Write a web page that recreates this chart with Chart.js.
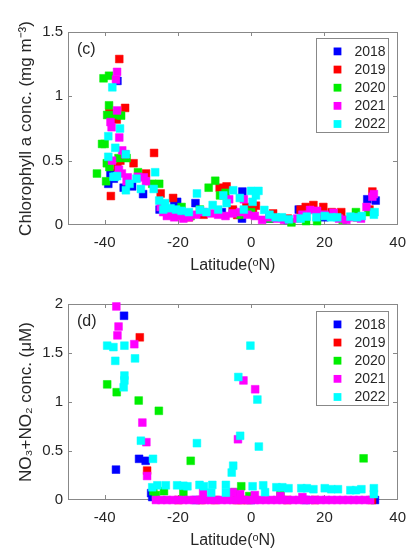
<!DOCTYPE html>
<html>
<head>
<meta charset="utf-8">
<script src="https://cdn.jsdelivr.net/npm/chart.js@4"></script>
<style>
  body { margin: 0; background: #fff; }
  .panel { position: relative; width: 415px; height: 275px; }
</style>
</head>
<body>
<div class="panel"><canvas id="chlChart"></canvas></div>
<div class="panel"><canvas id="no3Chart"></canvas></div>
<script>
// years and marker colours
const years = ['2018', '2019', '2020', '2021', '2022'];
const yearColors = ['#0000ff', '#ff0000', '#00ee00', '#ff00ff', '#00ffff'];

// tick labels
const latTicks = [-40, -20, 0, 20, 40];
const chlTicks = [0, 0.5, 1, 1.5];
const no3Ticks = [0, 0.5, 1, 1.5, 2];

// (c) chlorophyll a, [latitude, mg m-3]
const chl2018 = [[-36.5, 1.12], [-38.4, 0.40], [-39, 0.32], [-34.8, 0.29], [-37.5, 0.36], [-29.5, 0.24], [-32.5, 0.30],
  [-25, 0.12], [-21, 0.17], [-20.2, 0.18], [-18, 0.08], [-15.2, 0.17], [-8, 0.10], [-5, 0.11], [-2.4, 0.26], [-2.5, 0.05],
  [5, 0.05], [10, 0.04], [13, 0.12], [20, 0.06], [31.7, 0.20], [34, 0.19]];
const chl2019 = [[-36, 1.29], [-34.4, 0.91], [-38.7, 0.87], [-36.7, 0.82], [-36.5, 0.45], [-35.7, 0.50], [-38.3, 0.225],
  [-32.1, 0.48], [-26.5, 0.56], [-28.7, 0.40], [-24.7, 0.245], [-21.3, 0.21], [-17, 0.06], [-13, 0.08], [-8.6, 0.29],
  [-6.7, 0.30], [-5, 0.12], [-3.8, 0.078], [-1.3, 0.14], [0.5, 0.13], [1.3, 0.15], [6, 0.09], [10, 0.05], [13.5, 0.12],
  [14.9, 0.14], [17, 0.155], [19.7, 0.14], [22, 0.10], [24.6, 0.10], [29, 0.06], [32.3, 0.12], [33.1, 0.26]];
const chl2020 = [[-40.3, 1.14], [-38.8, 1.16], [-38.8, 0.93], [-39.3, 0.855], [-37.2, 0.855], [-35.5, 0.85], [-40.7, 0.63],
  [-40, 0.63], [-36.2, 0.52], [-34, 0.52], [-42.1, 0.40], [-39.4, 0.48], [-39.6, 0.34], [-38.7, 0.45], [-30.9, 0.41],
  [-27, 0.32], [-25.1, 0.32], [-23.8, 0.16], [-22, 0.11], [-19, 0.14], [-16.5, 0.07], [-14, 0.12], [-11.6, 0.29],
  [-9.8, 0.344], [-8.5, 0.23], [-7, 0.25], [-3, 0.08], [0, 0.10], [5, 0.05], [11, 0.02], [15, 0.03], [18, 0.03],
  [25, 0.04], [28.6, 0.10], [32, 0.10]];
const chl2021 = [[-36.6, 1.19], [-36.9, 1.13], [-36.6, 0.89], [-38.4, 0.80], [-38.1, 0.76], [-36.0, 0.68], [-35.2, 0.58],
  [-34.4, 0.55], [-38, 0.50], [-36.1, 0.43], [-35.3, 0.40], [-33.7, 0.37], [-34, 0.34], [-30.9, 0.375], [-29.3, 0.37],
  [-28.7, 0.34], [-24.7, 0.14], [-24, 0.10], [-23, 0.07], [-22, 0.08], [-21, 0.06], [-20, 0.07], [-18.5, 0.05], [-17, 0.06],
  [-15, 0.08], [-13, 0.10], [-11, 0.09], [-9, 0.08], [-7, 0.07], [-6, 0.20], [-5, 0.09], [-3, 0.10], [-2, 0.20],
  [-1, 0.08], [1, 0.07], [3, 0.04], [5, 0.06], [7, 0.05], [9, 0.04], [12.6, 0.05], [14, 0.08], [16.1, 0.117], [18, 0.11],
  [20, 0.08], [22.5, 0.095], [24, 0.05], [26, 0.04], [28, 0.06], [30, 0.05], [31.5, 0.14], [33.1, 0.22], [33.5, 0.24]];
const chl2022 = [[-37.9, 1.07], [-35.8, 0.75], [-39, 0.69], [-37.1, 0.60], [-39, 0.53], [-34.2, 0.55], [-37.6, 0.375],
  [-37.2, 0.375], [-36.6, 0.38], [-33.2, 0.32], [-34.2, 0.27], [-31.3, 0.36], [-30.1, 0.28], [-26.2, 0.41], [-26.6, 0.28],
  [-25.1, 0.19], [-24, 0.12], [-23.5, 0.17], [-22, 0.13], [-20.5, 0.12], [-19, 0.11], [-17, 0.10], [-14.8, 0.245],
  [-14, 0.117], [-12.2, 0.10], [-10.5, 0.155], [-9, 0.12], [-7.6, 0.23], [-6.7, 0.17], [-4.9, 0.27], [-3.1, 0.21],
  [-2, 0.12], [0, 0.265], [0.4, 0.18], [1.3, 0.23], [2, 0.265], [3.6, 0.117], [5, 0.08], [6.7, 0.06], [8.4, 0.06],
  [10.3, 0.044], [13.5, 0.05], [15.2, 0.065], [17.8, 0.06], [20.1, 0.07], [21.8, 0.06], [23.5, 0.06], [27.1, 0.065],
  [28.9, 0.06], [30.2, 0.07], [33.5, 0.08], [33.7, 0.10]];

// (d) NO3+NO2, [latitude, uM]
const no3_2018 = [[-34.7, 1.88], [-36.9, 0.31], [-30.6, 0.42], [-28.8, 0.40], [-27.3, 0.07], [-27, 0.03], [-15, 0], [0, 0],
  [15, 0], [33.8, 0]];
const no3_2019 = [[-30.4, 1.66], [-28.4, 0.30], [-19.8, 0], [-13.5, 0], [-10, 0], [-4, 0], [-2.7, 0], [-1, 0], [9.8, 0],
  [17.4, 0], [33, 0]];
const no3_2020 = [[-39.3, 1.18], [-36.7, 1.10], [-30.7, 1.015], [-25.2, 0.91], [-16.5, 0.40], [30.7, 0.425], [-26.7, 0.09],
  [-26, 0.05], [-23.8, 0.09], [-18.5, 0.075], [-4.5, 0.08], [-2.7, 0.14], [-0.5, 0.04], [8, 0.05]];
const no3_2021 = [[-36.8, 1.975], [-36.2, 1.77], [-36.5, 1.68], [-31.9, 1.59], [-29.7, 0.79], [-28.6, 0.59], [-28.4, 0.245],
  [-2.1, 1.22], [1.1, 1.13], [-3.6, 0.62], [-13.1, 0.075], [-5, 0.08], [-3, 0.06], [1, 0.05], [8, 0.04], [14, 0.03],
  [-26, 0], [-24.5, 0], [-23, 0], [-21.5, 0], [-20, 0], [-18.5, 0], [-17, 0], [-15.5, 0], [-14, 0], [-12.5, 0], [-11, 0],
  [-9.5, 0], [-8, 0], [-6.5, 0], [-5, 0], [-3.5, 0], [-2, 0], [-0.5, 0], [1, 0], [2.5, 0], [4, 0], [5.5, 0], [7, 0],
  [8.5, 0], [10, 0], [11.5, 0], [13, 0], [14.5, 0], [16, 0], [17.5, 0], [19, 0], [20.5, 0], [22, 0], [23.5, 0], [25, 0],
  [26.5, 0], [28, 0], [29.5, 0], [31, 0], [32.5, 0]];
const no3_2022 = [[-39.3, 1.575], [-37.6, 1.56], [-34.6, 1.575], [-37.1, 1.42], [-31.7, 1.445], [-34.6, 1.27], [-34.6, 1.22],
  [-34.8, 1.15], [-30.1, 0.605], [-26.8, 0.42], [-14.8, 0.58], [-0.2, 1.575], [-3.5, 1.255], [1.7, 1.025], [-3.0, 0.655],
  [2.1, 0.545], [-4.9, 0.35], [-5.3, 0.28], [-27, 0.13], [-25.6, 0.15], [-23.3, 0.15], [-20.2, 0.15], [-18.5, 0.145],
  [-17.4, 0.14], [-14.1, 0.154], [-12.9, 0.14], [-10.6, 0.154], [-10.9, 0.075], [-6.9, 0.154], [-6.9, 0.075], [0.4, 0.14],
  [3.3, 0.15], [3.8, 0.08], [6.9, 0.13], [8.5, 0.13], [10.2, 0.12], [13.7, 0.12], [15.2, 0.12], [17, 0.11], [20.1, 0.12],
  [21.9, 0.11], [23.7, 0.11], [27.1, 0.10], [28.6, 0.10], [30.1, 0.11], [33.5, 0.12], [33.5, 0.06]];

const chlSeries = [chl2018, chl2019, chl2020, chl2021, chl2022];
const no3Series = [no3_2018, no3_2019, no3_2020, no3_2021, no3_2022];

const textColor = '#262626';
const axisColor = '#888888';
const fontFamily = '"Liberation Sans", Arial, sans-serif';
const markerRadius = 5.5;

// thin lines drawn as 1px rectangles
function hLine(ctx, x0, x1, y) { ctx.fillRect(Math.min(x0, x1), Math.round(y), Math.abs(x1 - x0), 1); }
function vLine(ctx, x, y0, y1) { ctx.fillRect(Math.round(x), Math.min(y0, y1), 1, Math.abs(y1 - y0)); }

// box around the plot with inward tick marks, drawn under the markers
const boxPlugin = {
    id: 'plotBox',
    beforeDatasetsDraw(chart) {
        const ctx = chart.ctx;
        const a = chart.chartArea;
        const xs = chart.scales.x, ys = chart.scales.y;
        const len = 4;
        const l = Math.round(a.left), r = Math.round(a.right) - 1;
        const t = Math.round(a.top), b = Math.round(a.bottom) - 1;
        ctx.save();
        ctx.fillStyle = axisColor;
        hLine(ctx, l, r + 1, t);
        hLine(ctx, l, r + 1, b);
        vLine(ctx, l, t, b + 1);
        vLine(ctx, r, t, b + 1);
        latTicks.forEach(function (v) {
            const px = Math.min(xs.getPixelForValue(v), r);
            vLine(ctx, px, b, b - len);
            vLine(ctx, px, t, t + len);
        });
        ys.ticks.forEach(function (tk) {
            const py = Math.min(Math.max(ys.getPixelForValue(tk.value), t), b);
            hLine(ctx, l, l + len, py);
            hLine(ctx, r, r - len, py);
        });
        ctx.restore();
    }
};

// panel letter and boxed legend inside the plot
const overlayPlugin = {
    id: 'overlay',
    afterDatasetsDraw(chart, args, opts) {
        const ctx = chart.ctx;
        const a = chart.chartArea;
        ctx.save();
        ctx.fillStyle = textColor;
        ctx.font = '16px ' + fontFamily;
        ctx.textBaseline = 'middle';
        ctx.textAlign = 'left';
        ctx.fillText(opts.label, a.left + 9, a.top + opts.labelY);

        const bx = Math.round(a.right - 82), by = Math.round(a.top + opts.legendTop);
        const bw = 73, bh = 95;
        ctx.fillStyle = '#fff';
        ctx.fillRect(bx, by, bw, bh);
        ctx.fillStyle = axisColor;
        hLine(ctx, bx, bx + bw, by);
        hLine(ctx, bx, bx + bw, by + bh - 1);
        vLine(ctx, bx, by, by + bh);
        vLine(ctx, bx + bw - 1, by, by + bh);
        ctx.font = '14px ' + fontFamily;
        chart.data.datasets.forEach(function (ds, i) {
            const cy = by + 13.4 + i * 18.15;
            const s = markerRadius * Math.SQRT1_2;
            ctx.fillStyle = ds.backgroundColor;
            ctx.fillRect(bx + 21.5 - s, cy - s, 2 * s, 2 * s);
            ctx.fillStyle = textColor;
            ctx.fillText(ds.label, bx + 38.5, cy + 0.5);
        });
        ctx.restore();
    }
};

function makeDatasets(series) {
    return series.map(function (pts, i) {
        return {
            label: years[i],
            data: pts.map(function (p) { return { x: p[0], y: p[1] }; }),
            backgroundColor: yearColors[i],
            borderColor: yearColors[i],
            borderWidth: 0.5,
            pointStyle: 'rect',
            pointRadius: markerRadius,
            pointHoverRadius: markerRadius,
            clip: false,
            order: years.length - i   // later years drawn on top
        };
    });
}

function makeChart(id, series, yTicks, yMax, yTitle, label, padTop, legendTop) {
    const tickFont = { family: fontFamily, size: 15 };
    const titleFont = { family: fontFamily, size: 17 };
    return new Chart(document.getElementById(id), {
        type: 'scatter',
        data: { datasets: makeDatasets(series) },
        plugins: [boxPlugin, overlayPlugin],
        options: {
            responsive: true,
            maintainAspectRatio: false,
            animation: false,
            layout: { padding: { top: padTop, right: 11, left: 0, bottom: 0 } },
            plugins: {
                legend: { display: false },
                tooltip: { enabled: false },
                overlay: { label: label, labelY: 18, legendTop: legendTop }
            },
            scales: {
                x: {
                    type: 'linear',
                    min: -50,
                    max: 40,
                    afterBuildTicks: function (s) { s.ticks = latTicks.map(function (v) { return { value: v }; }); },
                    afterFit: function (s) { s.height = 50; },
                    grid: { display: false, drawTicks: false },
                    border: { display: false },
                    ticks: { color: textColor, font: tickFont, padding: 9, maxRotation: 0,
                        callback: function (v) { return String(v); } },
                    title: { display: true, text: 'Latitude(\u1D52N)', color: textColor,
                        font: { family: fontFamily, size: 16 }, padding: { top: 0, bottom: 0 } }
                },
                y: {
                    type: 'linear',
                    min: 0,
                    max: yMax,
                    afterBuildTicks: function (s) { s.ticks = yTicks.map(function (v) { return { value: v }; }); },
                    afterFit: function (s) { s.width = 68; },
                    grid: { display: false, drawTicks: false },
                    border: { display: false },
                    ticks: { color: textColor, font: tickFont, padding: 5,
                        callback: function (v) { return String(v); } },
                    title: { display: true, text: yTitle, color: textColor, font: titleFont,
                        padding: { top: 16, bottom: 0 } }
                }
            }
        }
    });
}

makeChart('chlChart', chlSeries, chlTicks, 1.5, 'Chlorophyll a conc. (mg m\u207B\u00B3)', '(c)', 32, 5.5);
makeChart('no3Chart', no3Series, no3Ticks, 2, 'NO\u2083+NO\u2082 conc. (\u03BCM)', '(d)', 29, 7.2);
</script>
</body>
</html>
